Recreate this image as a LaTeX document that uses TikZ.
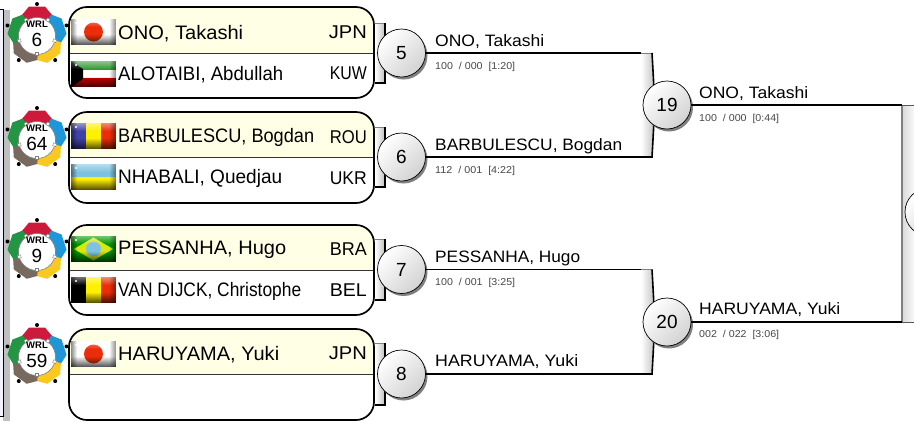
\documentclass[tikz,border=0pt]{standalone}
\usepackage{fontspec}
\setmainfont{Liberation Sans}
\usetikzlibrary{fadings,shadows}

\definecolor{paleyellow}{RGB}{255,255,230}
\definecolor{flagred}{RGB}{235,45,10}
\definecolor{railblue}{RGB}{242,242,252}
\definecolor{subgray}{RGB}{70,70,70}
\definecolor{ringred}{RGB}{205,25,60}
\definecolor{ringblue}{RGB}{30,150,215}
\definecolor{ringyellow}{RGB}{250,200,30}
\definecolor{ringgray}{RGB}{120,105,95}
\definecolor{ringgreen}{RGB}{35,150,70}
\definecolor{flagblue}{RGB}{65,65,170}
\definecolor{flagsky}{RGB}{125,195,225}
\definecolor{flagyellow}{RGB}{255,240,0}

\tikzset{
    matchbox/.style={draw, line width=1.7pt, rounded corners=18pt, minimum width=305pt, inner sep=0pt},
    numball/.style={circle, draw, line width=.7pt, minimum size=48pt, inner sep=0pt,
        top color=white, bottom color=gray!35, shading angle=45,
        font=\fontsize{19}{19}\selectfont,
        drop shadow={shadow xshift=2pt, shadow yshift=-2.5pt, fill=gray, opacity=1}},
    winline/.style={line width=1.6pt},
    nametext/.style={anchor=base west, inner sep=0pt, font=\fontsize{19.5}{20}\selectfont},
    landtext/.style={anchor=base east, inner sep=0pt, font=\fontsize{18.5}{20}\selectfont},
    wintext/.style={anchor=base west, inner sep=0pt, font=\fontsize{16.5}{18}\selectfont},
    scoretext/.style={anchor=base west, inner sep=0pt, text=subgray, font=\fontsize{10}{12}\selectfont},
}

% text squeezed to the width it has in the draw
\newcommand{\fitw}[2]{\resizebox{#1pt}{\height}{#2}}

% upper half of a match box, separator, then the outline
\newcommand{\matchframe}[4]{
    \fill[paleyellow, rounded corners=18pt] (69,#3) |- (374,#2) [sharp corners] -- (374,#3) -- cycle;
    \draw[line width=.8pt, black!80] (69,#3) -- (374,#3);
    \node[matchbox, minimum height={#4-#2}] (#1) at (221.5,{(#2+#4)/2}) {};
}

% wrestler medal: five ring pieces, five dots, white disc
\newcommand{\medal}[4]{
    \begin{scope}[shift={(#2,#3)}]
        \foreach \ringcol [count=\i from 0] in {ringred,ringblue,ringyellow,ringgray,ringgreen} {
            \fill[\ringcol, rotate=-72*\i] (-11,-14) -- (-15,-20) -- (-8,-28.5) -- (8,-28.5) -- (15,-20) -- (11,-14) -- cycle;
            \fill[rotate=-72*\i] (0,-31) circle (2);
        }
        \node[circle, fill=white, draw=gray, line width=.6pt, minimum size=37pt, inner sep=0pt] (#1) at (0,1) {};
        \foreach \i in {0,...,4}
            \fill[white, draw=gray, line width=.4pt, rotate=-72*\i-36] (-1.5,-20) rectangle (1.5,-17);
        \node[inner sep=0pt, font=\bfseries\fontsize{9.5}{9.5}\selectfont] at (0,-11) {WRL};
        \node[inner sep=0pt, font=\fontsize{19}{19}\selectfont] at (0,4.5) {#4};
    \end{scope}
}

% flags, all 45 x 26 with the shine on top
\newcommand{\shine}{
    \fill[black, opacity=.7, path fading=north] (0,15) rectangle (45,26);
    \fill[white, opacity=.45, path fading=south] (0,0) rectangle (45,8);
    \fill[black, opacity=.45, path fading=west] (38,0) rectangle (45,26);
    \fill[black, opacity=.45, path fading=east] (0,0) rectangle (6,26);
    \fill[white] (5,4) circle (1.2);
}
\newcommand{\flagjpn}[1]{\begin{scope}[shift={(71,#1)}]
    \fill[white] (0,0) rectangle (45,26);
    \fill[flagred] (22.5,13) circle (9.5);
    \shine
\end{scope}}
\newcommand{\flagkuw}[1]{\begin{scope}[shift={(71,#1)}]
    \fill[green!50!black!80] (0,0) rectangle (45,9);
    \fill[white] (0,9) rectangle (45,17);
    \fill[red!85!black] (0,17) rectangle (45,26);
    \fill[black] (0,0) -- (12,8) -- (12,18) -- (0,26) -- cycle;
    \shine
\end{scope}}
\newcommand{\flagrou}[1]{\begin{scope}[shift={(71,#1)}]
    \fill[flagblue] (0,0) rectangle (15,26);
    \fill[flagyellow] (15,0) rectangle (30,26);
    \fill[flagred] (30,0) rectangle (45,26);
    \shine
\end{scope}}
\newcommand{\flagukr}[1]{\begin{scope}[shift={(71,#1)}]
    \fill[flagsky] (0,0) rectangle (45,13);
    \fill[flagyellow] (0,13) rectangle (45,26);
    \shine
\end{scope}}
\newcommand{\flagbra}[1]{\begin{scope}[shift={(71,#1)}]
    \fill[green!60!black] (0,0) rectangle (45,26);
    \fill[yellow!85!green] (3,13) -- (22.5,1.5) -- (42,13) -- (22.5,24.5) -- cycle;
    \fill[flagsky] (22.5,13) circle (7.5);
    \shine
\end{scope}}
\newcommand{\flagbel}[1]{\begin{scope}[shift={(71,#1)}]
    \fill[black] (0,0) rectangle (15,26);
    \fill[flagyellow] (15,0) rectangle (30,26);
    \fill[flagred] (30,0) rectangle (45,26);
    \shine
\end{scope}}

% small bracket behind a number ball
\newcommand{\smallbracket}[2]{
    \fill[left color=white, right color=gray!50] (375,#1) -- (385,#1) -- (385,#2) -- (375,#2) -- cycle;
    \draw[line width=.6pt, gray] (375,#1) -- (385,#1);
    \draw[line width=1.6pt] (385,#1) -- (385,#2) -- (375,#2);
}
% big bracket, right side bowed towards the ball
\newcommand{\bigbracket}[3]{
    \fill[left color=white, right color=gray!50] (641,#1) -- (652,#1) .. controls (655,#2) .. (652,#3) -- (641,#3) -- cycle;
    \draw[line width=.6pt, gray] (641,#1) -- (652,#1);
    \draw[line width=1.6pt] (652,#1) .. controls (655,#2) .. (652,#3) -- (641,#3);
}

\begin{document}
\begin{tikzpicture}[x=1pt, y=-1pt]
    \useasboundingbox (0,0) rectangle (914,421);
    \clip (0,0) rectangle (914,421);

    % rail of the earlier round
    \fill[railblue] (0,9) rectangle (3,416);
    \fill[gray!50] (3,10) rectangle (10,421);
    \draw[line width=1pt] (0,9) -- (3,9) -- (3,416) -- (0,416);

    % match boxes
    \matchframe{boxa}{7}{53}{98}
    \matchframe{boxb}{112}{157}{203}
    \matchframe{boxc}{225}{270}{315}
    \matchframe{boxd}{329}{374}{420}

    % medals
    \medal{meda}{37}{35}{6}
    \medal{medb}{37}{139}{64}
    \medal{medc}{37}{251}{9}
    \medal{medd}{37}{356}{59}

    % flags
    \flagjpn{19}
    \flagkuw{61}
    \flagrou{123}
    \flagukr{164}
    \flagbra{236}
    \flagbel{277}
    \flagjpn{341}

    % names in the boxes
    \node[nametext] (onoa) at (118,39) {\fitw{125}{ONO, Takashi}};
    \node[nametext] (alo) at (118,80) {\fitw{165}{ALOTAIBI, Abdullah}};
    \node[nametext] (bara) at (118,142) {\fitw{196}{BARBULESCU, Bogdan}};
    \node[nametext] (nha) at (118,183) {\fitw{164}{NHABALI, Quedjau}};
    \node[nametext] (pesa) at (118,254) {\fitw{168}{PESSANHA, Hugo}};
    \node[nametext] (van) at (118,296) {\fitw{183}{VAN DIJCK, Christophe}};
    \node[nametext] (hara) at (118,360) {\fitw{161}{HARUYAMA, Yuki}};

    % countries
    \node[landtext] (jpna) at (367,38) {\fitw{38}{JPN}};
    \node[landtext] (kuw) at (367,79) {\fitw{37}{KUW}};
    \node[landtext] (rou) at (367,143) {\fitw{37}{ROU}};
    \node[landtext] (ukr) at (367,184) {\fitw{37}{UKR}};
    \node[landtext] (bra) at (367,255) {\fitw{37}{BRA}};
    \node[landtext] (bel) at (367,296) {\fitw{37}{BEL}};
    \node[landtext] (jpnb) at (367,359) {\fitw{38}{JPN}};

    % brackets
    \smallbracket{23}{83}
    \smallbracket{127}{187}
    \smallbracket{239}{300}
    \smallbracket{343}{405}
    \bigbracket{53}{105}{157}
    \bigbracket{269.5}{322}{374}
    \fill[left color=gray!30, right color=gray!5] (902,105) rectangle (914,322);
    \draw[line width=2pt, gray] (902,105) -- (902,322);
    \draw[line width=.8pt, gray!70!black] (902,105) -- (914,105);
    \draw[line width=.8pt, gray!70!black] (902,322) -- (914,322);

    % joints for the lines
    \coordinate (joina) at (641,53);
    \coordinate (joinb) at (641,157);
    \coordinate (joinc) at (641,269.5);
    \coordinate (joind) at (641,374);
    \coordinate (joine) at (902,105);
    \coordinate (joinf) at (902,322);

    % number balls
    \node[numball] (n5) at (401.5,53) {5};
    \node[numball] (n6) at (401.5,157) {6};
    \node[numball] (n7) at (401.5,269.5) {7};
    \node[numball] (n8) at (401.5,374) {8};
    \node[numball] (n19) at (667,105) {19};
    \node[numball] (n20) at (667,322) {20};
    \node[numball] (nfin) at (929,212) {};

    \draw[winline] (n5) -- (joina);
    \draw[winline] (n6) -- (joinb);
    \draw[winline] (n7) -- (joinc);
    \draw[winline] (n8) -- (joind);
    \draw[winline] (n19) -- (joine);
    \draw[winline] (n20) -- (joinf);

    % winners and scores
    \node[wintext] (wina) at (435,46) {\fitw{109}{ONO, Takashi}};
    \node[scoretext] (scora) at (435,69) {\fitw{80}{100 ~/ 000 ~[1:20]}};
    \node[wintext] (winb) at (435,150) {\fitw{187}{BARBULESCU, Bogdan}};
    \node[scoretext] (scorb) at (435,173) {\fitw{80}{112 ~/ 001 ~[4:22]}};
    \node[wintext] (winc) at (435,262) {\fitw{145}{PESSANHA, Hugo}};
    \node[scoretext] (scorc) at (435,285) {\fitw{80}{100 ~/ 001 ~[3:25]}};
    \node[wintext] (wind) at (435,366) {\fitw{143}{HARUYAMA, Yuki}};
    \node[wintext] (wine) at (699,98) {\fitw{109}{ONO, Takashi}};
    \node[scoretext] (score) at (699,121) {\fitw{80}{100 ~/ 000 ~[0:44]}};
    \node[wintext] (winf) at (699,314) {\fitw{141}{HARUYAMA, Yuki}};
    \node[scoretext] (scorf) at (699,337) {\fitw{80}{002 ~/ 022 ~[3:06]}};
\end{tikzpicture}
\end{document}
